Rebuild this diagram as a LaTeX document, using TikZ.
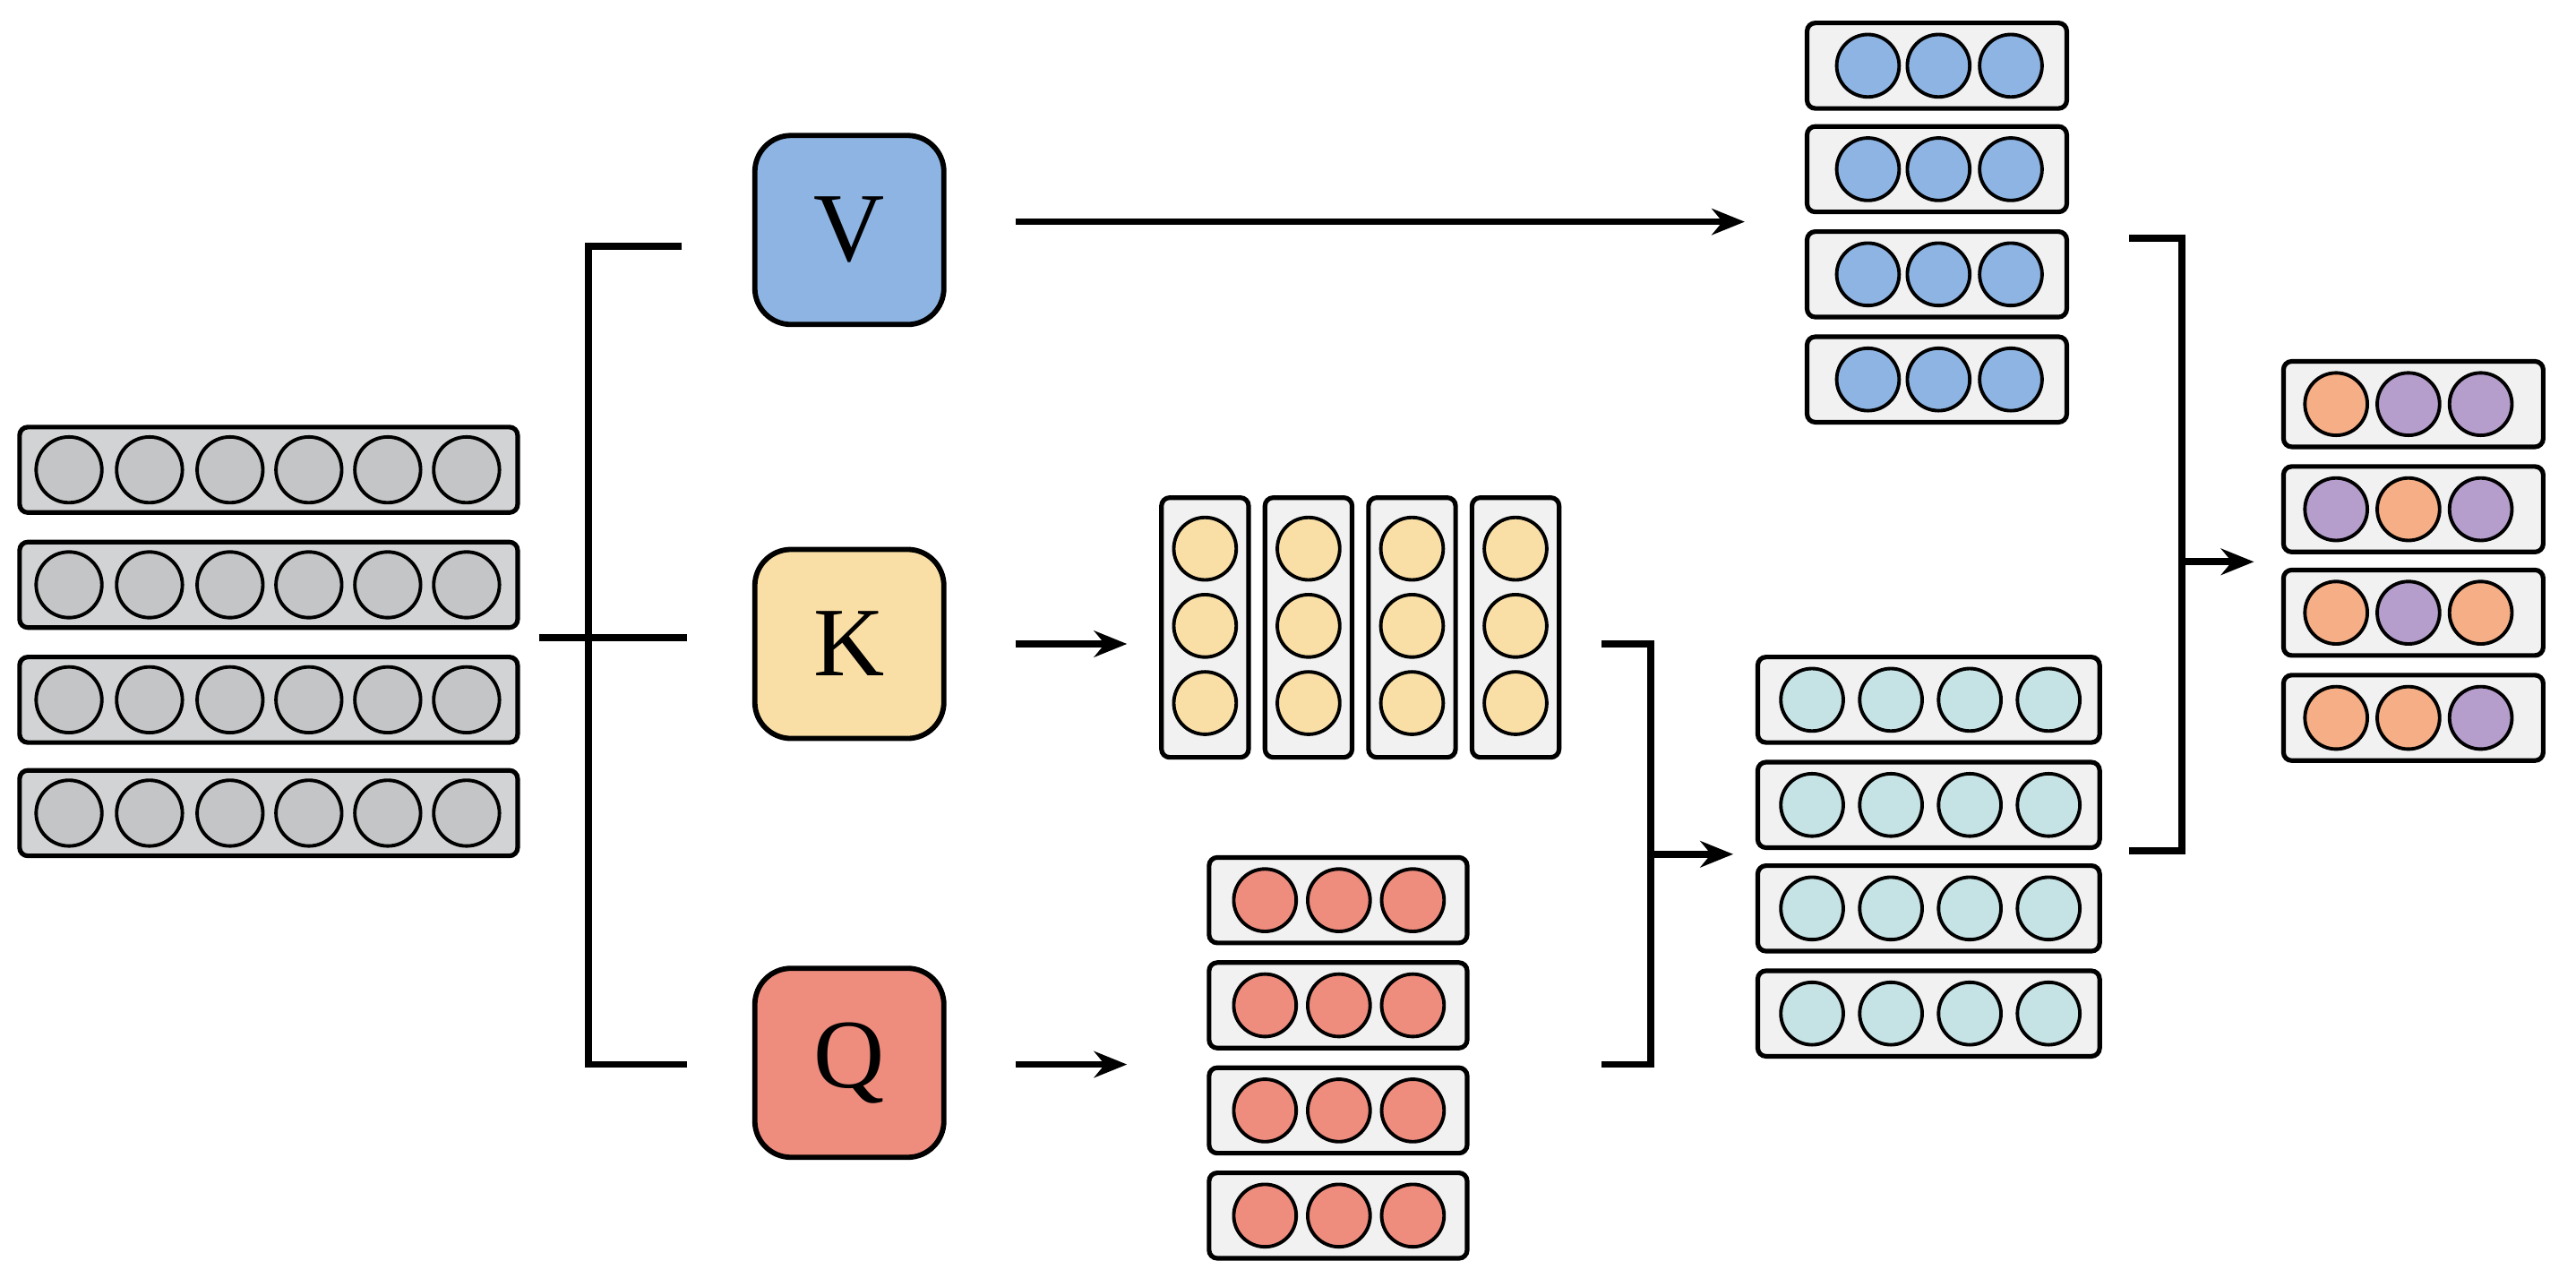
\documentclass[tikz,border=0pt]{standalone}
\usepackage{fontspec}
\setmainfont{Liberation Serif}
\usetikzlibrary{arrows.meta}
\definecolor{inbg}{HTML}{D2D3D4}
\definecolor{barbg}{HTML}{F1F1F1}
\definecolor{cgray}{HTML}{C3C5C6}
\definecolor{cv}{HTML}{8DB4E2}
\definecolor{ck}{HTML}{F9DFA6}
\definecolor{cq}{HTML}{EE8C7E}
\definecolor{cmid}{HTML}{C5E2E4}
\definecolor{corange}{HTML}{F5AE85}
\definecolor{cpurple}{HTML}{B59DCC}
\begin{document}
\begin{tikzpicture}[x=0.01cm,y=-0.01cm,
  bar/.style={draw,line width=0.8pt,fill=barbg,rounded corners=0.05cm,inner sep=0},
  dot/.style={circle,draw,line width=0.6pt,minimum size=0.38cm,inner sep=0},
  proj/.style={draw,line width=0.9pt,rounded corners=0.22cm,minimum size=1.15cm,
    font=\fontsize{17}{17}\selectfont},
  link/.style={line width=1.2pt},
  flow/.style={link,-{Stealth[length=0.2cm,width=0.16cm]}}]
\useasboundingbox (0,0) rectangle (1568,778);

% input tokens
\foreach \r/\y in {1/286,2/356,3/426,4/495}{
  \node[bar,fill=inbg,minimum width=3.03cm,minimum height=0.52cm] (in\r) at (163.5,\y) {};
  \foreach \c/\x in {1/42,2/91,3/140,4/188,5/236,6/284}
    \node[dot,minimum size=0.4cm,fill=cgray] (in\r-\c) at (\x,\y) {};
}

% projections
\node[proj,fill=cv] (V) at (517,140) {V};
\node[proj,fill=ck] (K) at (517,392) {K};
\node[proj,fill=cq] (Q) at (517,647) {Q};

% split into V, K, Q
\coordinate (split) at (328,388);
\coordinate (kin) at (418,388);
\coordinate (vin) at (415,150);
\coordinate (vtop) at (358,150);
\coordinate (qbot) at (358,648);
\coordinate (qin) at (418,648);
\draw[link] (split) -- (kin);
\draw[link] (vin) -- (vtop) -- (qbot) -- (qin);

% V output
\foreach \r/\y in {1/40,2/103,3/167,4/231}{
  \node[bar,minimum width=1.58cm,minimum height=0.52cm] (v\r) at (1179,\y) {};
  \foreach \c/\x in {1/1137,2/1180,3/1224}
    \node[dot,fill=cv] (v\r-\c) at (\x,\y) {};
}
\coordinate (vout) at (618,135);
\coordinate (vtip) at (1062,135);
\draw[flow] (vout) -- (vtip);

% K output (columns)
\foreach \c/\x in {1/733.5,2/796.5,3/859.5,4/922.5}{
  \node[bar,minimum width=0.53cm,minimum height=1.58cm] (k\c) at (\x,382) {};
  \foreach \r/\y in {1/334,2/381,3/428}
    \node[dot,fill=ck] (k\c-\r) at (\x,\y) {};
}
\coordinate (kout) at (618,392);
\coordinate (ktip) at (686,392);
\draw[flow] (kout) -- (ktip);

% Q output
\foreach \r/\y in {1/548,2/612,3/676,4/740}{
  \node[bar,minimum width=1.57cm,minimum height=0.52cm] (q\r) at (814.5,\y) {};
  \foreach \c/\x in {1/770,2/815,3/860}
    \node[dot,fill=cq] (q\r-\c) at (\x,\y) {};
}
\coordinate (qout) at (618,648);
\coordinate (qtip) at (686,648);
\draw[flow] (qout) -- (qtip);

% scores
\foreach \r/\y in {1/426,2/490,3/553,4/617}{
  \node[bar,minimum width=2.08cm,minimum height=0.52cm] (s\r) at (1174,\y) {};
  \foreach \c/\x in {1/1103,2/1151,3/1199,4/1247}
    \node[dot,fill=cmid] (s\r-\c) at (\x,\y) {};
}
\coordinate (kend) at (975,392);
\coordinate (kcor) at (1005,392);
\coordinate (qcor) at (1005,648);
\coordinate (qend) at (975,648);
\coordinate (kqmid) at (1005,520);
\coordinate (stip) at (1055,520);
\draw[link] (kend) -- (kcor) -- (qcor) -- (qend);
\draw[flow] (kqmid) -- (stip);

% result
\foreach \r/\y/\a/\b/\d in {1/246/corange/cpurple/cpurple,2/310/cpurple/corange/cpurple,
    3/373/corange/cpurple/corange,4/437/corange/corange/cpurple}{
  \node[bar,minimum width=1.58cm,minimum height=0.52cm] (o\r) at (1469,\y) {};
  \node[dot,fill=\a] (o\r-1) at (1422,\y) {};
  \node[dot,fill=\b] (o\r-2) at (1466,\y) {};
  \node[dot,fill=\d] (o\r-3) at (1510,\y) {};
}
\coordinate (vend) at (1296,145);
\coordinate (vcor) at (1328,145);
\coordinate (scor) at (1328,518);
\coordinate (send) at (1296,518);
\coordinate (vsmid) at (1328,342);
\coordinate (otip) at (1372,342);
\draw[link] (vend) -- (vcor) -- (scor) -- (send);
\draw[flow] (vsmid) -- (otip);
\end{tikzpicture}
\end{document}
